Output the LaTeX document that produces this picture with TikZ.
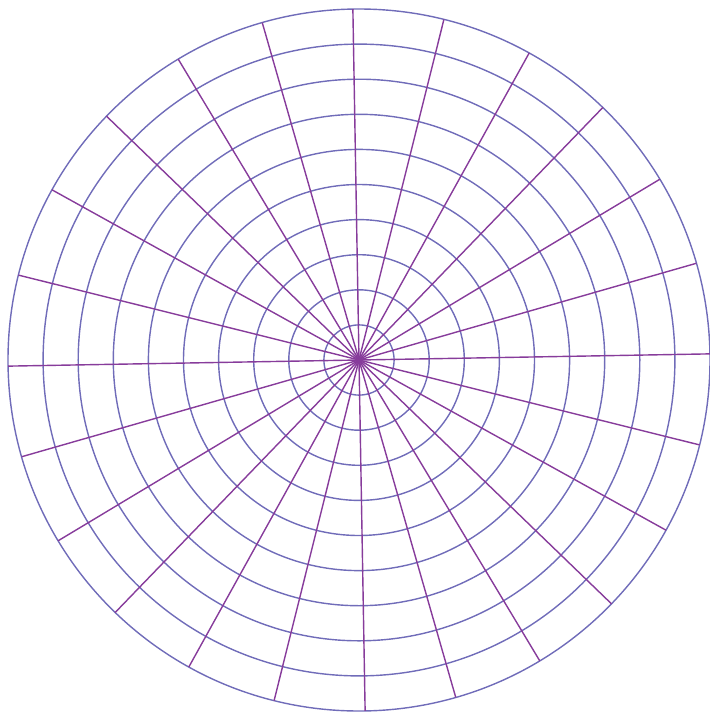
\documentclass[tikz,border=0pt]{standalone}
\definecolor{spokecol}{RGB}{135,60,155}
\definecolor{ringcol}{RGB}{112,108,185}
\tikzset{
  ringline/.style={draw=ringcol, line width=0.8pt},
  spokeline/.style={draw=spokecol, line width=0.8pt},
}
\begin{document}
\begin{tikzpicture}[x=0.02cm, y=-0.02cm]
\useasboundingbox (0,0) rectangle (710,714);
\coordinate (c) at (359,360);
\foreach \r in {1,...,10} {
  \draw[ringline] (c) circle[radius=35.1*\r];
}
\foreach \a in {0,15,...,345} {
  \draw[spokeline] (c) -- ++({351*cos(\a+1)}, {-351*sin(\a+1)});
}
\end{tikzpicture}
\end{document}
